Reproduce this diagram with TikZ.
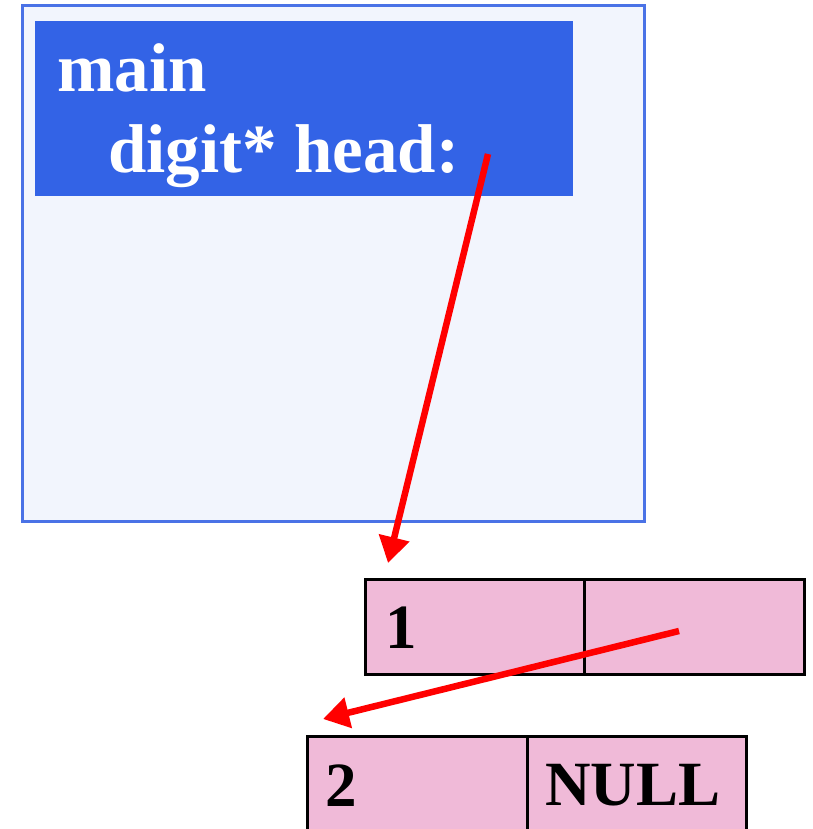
\documentclass[tikz,border=0pt]{standalone}
\usepackage{fontspec}
\setmainfont{Liberation Serif}
\usetikzlibrary{arrows.meta}
\definecolor{framefill}{HTML}{F2F5FD}
\definecolor{framedraw}{HTML}{4A72E6}
\definecolor{headblue}{HTML}{3363E6}
\definecolor{cellpink}{HTML}{F0BAD8}
\definecolor{ptrred}{HTML}{FF0000}
\tikzset{
  framebox/.style={draw=framedraw, fill=framefill, line width=2.6pt, inner sep=0pt, anchor=north west},
  headbox/.style={fill=headblue, inner sep=0pt, anchor=north west},
  cellbox/.style={draw=black, fill=cellpink, line width=3pt, inner sep=0pt, anchor=north west},
  headtext/.style={text=white, font=\fontsize{69}{80}\selectfont\bfseries, anchor=base west, inner sep=0pt},
  celltext/.style={text=black, font=\fontsize{63}{75}\selectfont\bfseries, anchor=base west, inner sep=0pt},
  ptr/.style={draw=ptrred, line width=6.5pt, -{Triangle[length=26pt,width=30pt]}}
}
\begin{document}
\begin{tikzpicture}[x=1pt,y=-1pt]
\useasboundingbox (0,0) rectangle (812,829);
\node[framebox, minimum width=622pt, minimum height=516pt] (frame) at (21,4) {};
\node[headbox, minimum width=538pt, minimum height=175pt] (head) at (35,21) {};
\node[headtext] (tmain) at (57,92) {main};
\node[headtext] (thead) at (108,173) {digit* head:};
\node[cellbox, minimum width=219pt, minimum height=95pt] (c1a) at (364,578) {};
\node[cellbox, minimum width=220pt, minimum height=95pt] (c1b) at (583,578) {};
\node[cellbox, minimum width=220pt, minimum height=97pt] (c2a) at (306,735) {};
\node[cellbox, minimum width=219pt, minimum height=97pt] (c2b) at (526,735) {};
\node[celltext] (t1) at (385,648) {1};
\node[celltext] (t2) at (325,806) {2};
\node[celltext] (tnull) at (545,805) {NULL};
\coordinate (p1s) at (488,154);
\coordinate (p1e) at (388,563);
\coordinate (p2s) at (679,631);
\coordinate (p2e) at (323,719);
\draw[ptr] (p1s) -- (p1e);
\draw[ptr] (p2s) -- (p2e);
\end{tikzpicture}
\end{document}
